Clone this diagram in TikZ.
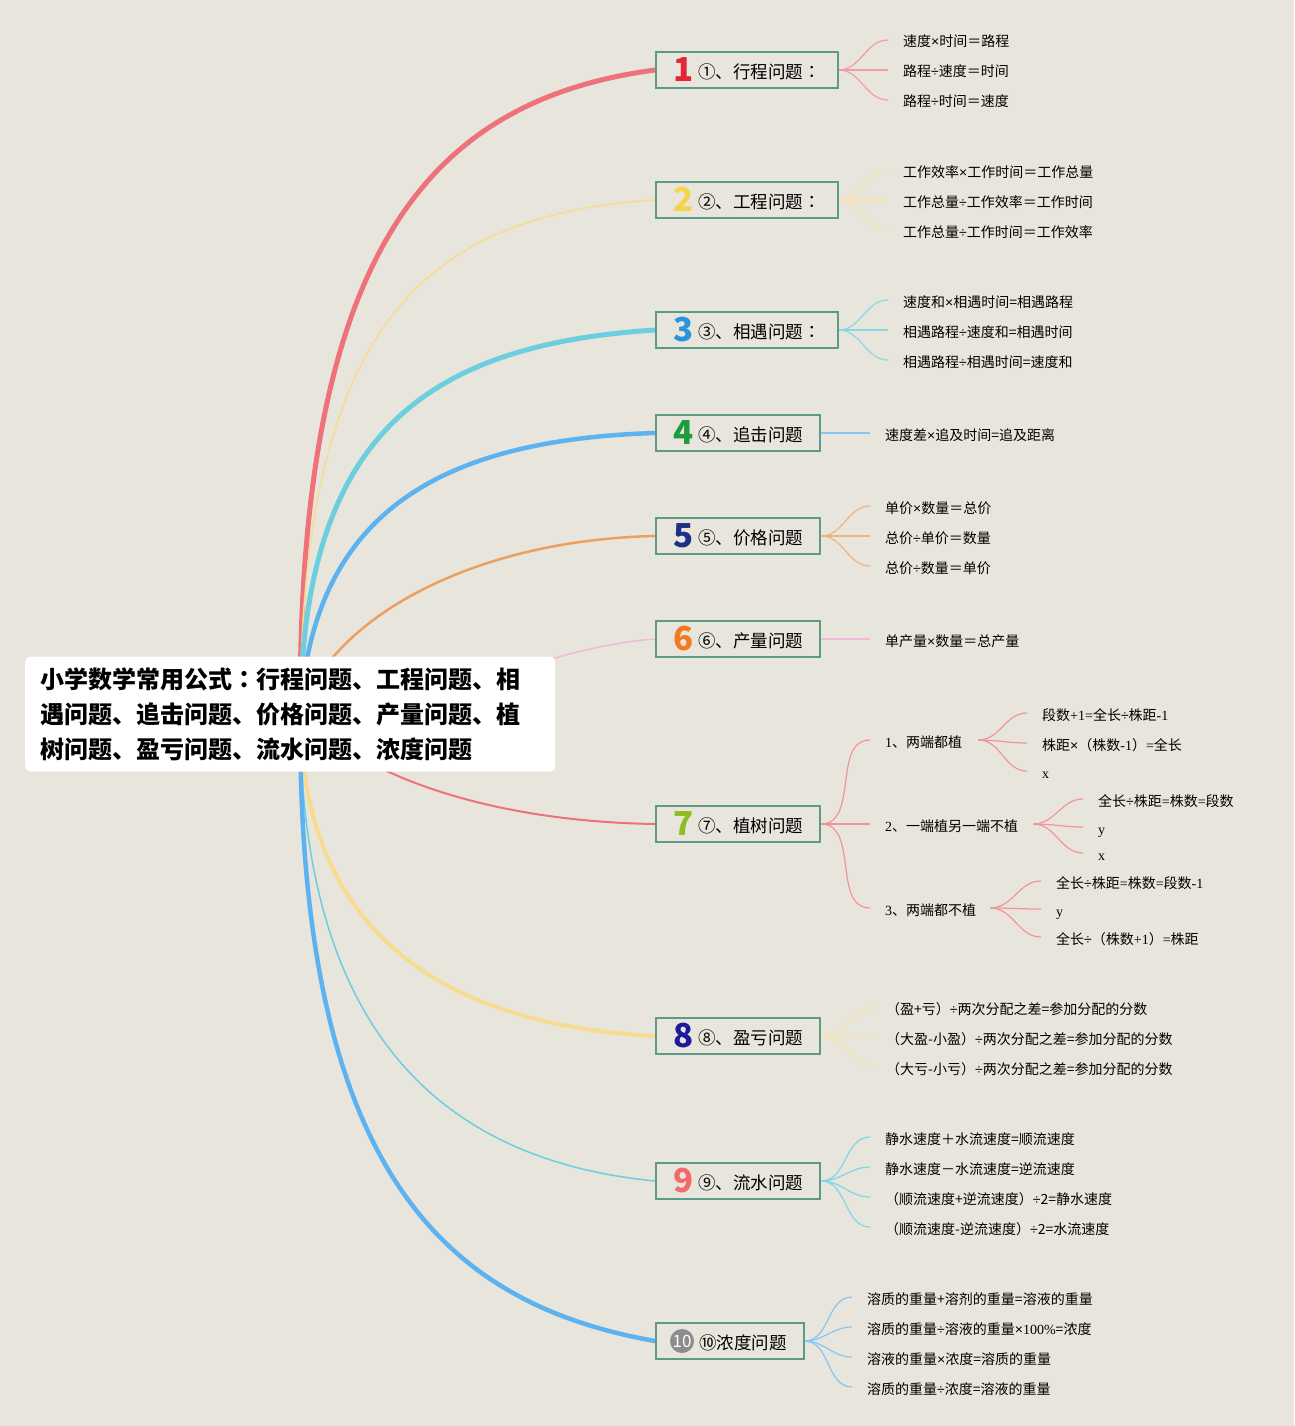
\documentclass[tikz,border=0pt]{standalone}
\usepackage{fontspec}
\setmainfont{Noto Sans CJK SC}
\newfontfamily\lat{Liberation Serif}
\newfontfamily\latsans{Liberation Sans}
\newfontfamily\tcfont{Noto Sans CJK TC}
\usetikzlibrary{positioning}

\definecolor{bgcol}{HTML}{E8E5DD}
\definecolor{boxline}{HTML}{5E9A88}
\definecolor{ered}{HTML}{EE727A}
\definecolor{eyel}{HTML}{F7DC90}
\definecolor{ecyan}{HTML}{6CCEDF}
\definecolor{eblue}{HTML}{5CB3EF}
\definecolor{eorange}{HTML}{EBA060}
\definecolor{epink}{HTML}{F3B8D8}
\definecolor{nred}{HTML}{E32636}
\definecolor{nyel}{HTML}{F4D54A}
\definecolor{nblue}{HTML}{2B95DB}
\definecolor{ngreen}{HTML}{1E9B3C}
\definecolor{nnavy}{HTML}{1F2F86}
\definecolor{norange}{HTML}{F5791F}
\definecolor{nlime}{HTML}{8DBE1E}
\definecolor{nindigo}{HTML}{1C1A9A}
\definecolor{nsalmon}{HTML}{F26B6B}
\definecolor{ngray}{HTML}{8C8C8C}

\newcommand{\bignum}[2]{\raisebox{-3pt}{\fontsize{33}{33}\selectfont\bfseries\color{#1}#2}\hspace{5pt}}
\newcommand{\tms}{{\latsans ×}}
\newcommand{\dvs}{{\latsans ÷}}
\newcommand{\colonc}{{\tcfont ：}}

\pgfdeclarelayer{back}
\pgfdeclarelayer{links}
\pgfsetlayers{back,links,main}

\begin{document}
\begin{tikzpicture}[x=1pt, y=-1pt,
    title/.style={fill=white, rounded corners=5pt, align=left, text width=500pt,
        inner xsep=15pt, minimum height=115pt, anchor=west,
        font=\fontsize{24}{35}\selectfont\bfseries},
    branch/.style={draw=boxline, line width=2pt, fill=bgcol, anchor=west,
        minimum height=36pt, inner xsep=17pt, inner ysep=0pt, text height=21pt, text depth=4pt,
        font=\fontsize{17.5}{20}\selectfont},
    leaf/.style={anchor=west, inner xsep=0pt, inner ysep=1pt, text height=14pt,
        text depth=0pt, font=\fontsize{14}{16}\selectfont},
    trunk/.style={line cap=round},
    twig/.style={line width=1.2pt, out=0, in=180}
]
    % page and background
    \useasboundingbox (0,0) rectangle (1294,1426);
    \begin{pgfonlayer}{back}
        \fill[bgcol] (0,0) rectangle (1294,1426);
    \end{pgfonlayer}

    % central topic
    \node[title] (root) at (25,714) {小学数学常用公式\colonc 行程问题、工程问题、相\\
        遇问题、追击问题、价格问题、产量问题、植\\
        树问题、盈亏问题、流水问题、浓度问题};
    \coordinate (hub) at ([xshift=10pt]root.center);

    % main branches
    \node[branch] (b1) at (655,70) {\bignum{nred}{1}①、行程问题\colonc};
    \node[branch] (b2) at (655,200) {\bignum{nyel}{2}②、工程问题\colonc};
    \node[branch] (b3) at (655,330) {\bignum{nblue}{3}③、相遇问题\colonc};
    \node[branch] (b4) at (655,433) {\bignum{ngreen}{4}④、追击问题};
    \node[branch] (b5) at (655,536) {\bignum{nnavy}{5}⑤、价格问题};
    \node[branch] (b6) at (655,639) {\bignum{norange}{6}⑥、产量问题};
    \node[branch] (b7) at (655,824) {\bignum{nlime}{7}⑦、植树问题};
    \node[branch] (b8) at (655,1036) {\bignum{nindigo}{8}⑧、盈亏问题};
    \node[branch] (b9) at (655,1181) {\bignum{nsalmon}{9}⑨、流水问题};
    \node[branch] (b10) at (655,1341) {\hspace{26pt}⑩浓度问题};
    \node[circle, fill=ngray, text=white, inner sep=0pt, minimum size=24pt,
        font=\fontsize{17}{17}\selectfont] (n10) at ([xshift=27pt]b10.west) {10};

    % leaves of 1
    \node[leaf] (l1a) at (903,40) {速度\tms 时间＝路程};
    \node[leaf] (l1b) at (903,70) {路程\dvs 速度＝时间};
    \node[leaf] (l1c) at (903,100) {路程\dvs 时间＝速度};
    % leaves of 2
    \node[leaf] (l2a) at (903,170) {工作效率\tms 工作时间＝工作总量};
    \node[leaf] (l2b) at (903,200) {工作总量\dvs 工作效率＝工作时间};
    \node[leaf] (l2c) at (903,230) {工作总量\dvs 工作时间＝工作效率};
    % leaves of 3
    \node[leaf] (l3a) at (903,300) {速度和\tms 相遇时间=相遇路程};
    \node[leaf] (l3b) at (903,330) {相遇路程\dvs 速度和=相遇时间};
    \node[leaf] (l3c) at (903,360) {相遇路程\dvs 相遇时间=速度和};
    % leaves of 4, 5, 6
    \node[leaf] (l4a) at (885,433) {速度差\tms 追及时间=追及距离};
    \node[leaf] (l5a) at (885,506) {单价\tms 数量＝总价};
    \node[leaf] (l5b) at (885,536) {总价\dvs 单价＝数量};
    \node[leaf] (l5c) at (885,566) {总价\dvs 数量＝单价};
    \node[leaf] (l6a) at (885,639) {单产量\tms 数量＝总产量};
    % sub branches of 7
    \node[leaf] (s71) at (885,740) {{\lat 1}、两端都植};
    \node[leaf] (s72) at (885,824) {{\lat 2}、一端植另一端不植};
    \node[leaf] (s73) at (885,908) {{\lat 3}、两端都不植};
    \node[leaf] (l71a) at (1042,713) {段数{\lat +1=}全长\dvs 株距{\lat -1}};
    \node[leaf] (l71b) at (1042,743) {株距\tms （株数{\lat -1}）{\lat =}全长};
    \node[leaf] (l71c) at (1042,771) {\lat x};
    \node[leaf] (l72a) at (1098,799) {全长\dvs 株距{\lat =}株数{\lat =}段数};
    \node[leaf] (l72b) at (1098,827) {\lat y};
    \node[leaf] (l72c) at (1098,853) {\lat x};
    \node[leaf] (l73a) at (1056,881) {全长\dvs 株距{\lat =}株数{\lat =}段数{\lat -1}};
    \node[leaf] (l73b) at (1056,909) {\lat y};
    \node[leaf] (l73c) at (1056,937) {全长\dvs （株数{\lat +1}）{\lat =}株距};
    % leaves of 8
    \node[leaf] (l8a) at (886,1007) {（盈+亏）\dvs 两次分配之差=参加分配的分数};
    \node[leaf] (l8b) at (886,1037) {（大盈-小盈）\dvs 两次分配之差=参加分配的分数};
    \node[leaf] (l8c) at (886,1067) {（大亏-小亏）\dvs 两次分配之差=参加分配的分数};
    % leaves of 9
    \node[leaf] (l9a) at (885,1137) {静水速度＋水流速度=顺流速度};
    \node[leaf] (l9b) at (885,1167) {静水速度－水流速度=逆流速度};
    \node[leaf] (l9c) at (885,1197) {（顺流速度+逆流速度）\dvs 2=静水速度};
    \node[leaf] (l9d) at (885,1227) {（顺流速度-逆流速度）\dvs 2=水流速度};
    % leaves of 10
    \node[leaf] (l10a) at (867,1297) {溶质的重量+溶剂的重量=溶液的重量};
    \node[leaf] (l10b) at (867,1327) {溶质的重量\dvs 溶液的重量\tms {\lat 100\%}=浓度};
    \node[leaf] (l10c) at (867,1357) {溶液的重量\tms 浓度=溶质的重量};
    \node[leaf] (l10d) at (867,1387) {溶质的重量\dvs 浓度=溶液的重量};

    \begin{pgfonlayer}{links}
        % trunks from the centre
        \draw[trunk, ered, line width=5pt] (hub) .. controls (298,250) and (430,100) .. (b1.west);
        \draw[trunk, eyel, line width=1.5pt] (hub) .. controls (301,330) and (420,215) .. (b2.west);
        \draw[trunk, ecyan, line width=5pt] (hub) .. controls (303,440) and (420,345) .. (b3.west);
        \draw[trunk, eblue, line width=4.5pt] (hub) .. controls (312,520) and (430,440) .. (b4.west);
        \draw[trunk, eorange, line width=2.5pt] (hub) .. controls (330,620) and (470,540) .. (b5.west);
        \draw[trunk, epink, line width=1.5pt] (hub) .. controls (450,700) and (560,645) .. (b6.west);
        \draw[trunk, ered, line width=2pt] (hub) .. controls (380,790) and (520,822) .. (b7.west);
        \draw[trunk, eyel, line width=4pt] (hub) .. controls (302,930) and (440,1025) .. (b8.west);
        \draw[trunk, ecyan, line width=1.5pt] (hub) .. controls (300,1030) and (440,1160) .. (b9.west);
        \draw[trunk, eblue, line width=4.5pt] (hub) .. controls (298,1165) and (440,1303) .. (b10.west);

        % twigs to the formulas
        \foreach \l in {l1a,l1b,l1c}
            \draw[twig, ered!70] (b1.east) to ([xshift=-15pt]\l.west);
        \foreach \l in {l2a,l2b,l2c}
            \draw[twig, eyel!80] (b2.east) to ([xshift=-15pt]\l.west);
        \foreach \l in {l3a,l3b,l3c}
            \draw[twig, ecyan!80] (b3.east) to ([xshift=-15pt]\l.west);
        \draw[twig, eblue!75] (b4.east) to ([xshift=-15pt]l4a.west);
        \foreach \l in {l5a,l5b,l5c}
            \draw[twig, eorange!80] (b5.east) to ([xshift=-15pt]\l.west);
        \draw[twig, epink] (b6.east) to ([xshift=-15pt]l6a.west);
        \foreach \l in {s71,s72,s73}
            \draw[twig, ered!75] (b7.east) to ([xshift=-15pt]\l.west);
        \foreach \l in {l71a,l71b,l71c}
            \draw[twig, ered!75] ([xshift=16pt]s71.east) to ([xshift=-15pt]\l.west);
        \foreach \l in {l72a,l72b,l72c}
            \draw[twig, ered!75] ([xshift=15pt]s72.east) to ([xshift=-15pt]\l.west);
        \foreach \l in {l73a,l73b,l73c}
            \draw[twig, ered!75] ([xshift=14pt]s73.east) to ([xshift=-15pt]\l.west);
        \foreach \l in {l8a,l8b,l8c}
            \draw[twig, eyel!80] (b8.east) to ([xshift=-9pt]\l.west);
        \foreach \l in {l9a,l9b,l9c,l9d}
            \draw[twig, ecyan!85] (b9.east) to ([xshift=-15pt]\l.west);
        \foreach \l in {l10a,l10b,l10c,l10d}
            \draw[twig, eblue!75] (b10.east) to ([xshift=-15pt]\l.west);
    \end{pgfonlayer}
\end{tikzpicture}
\end{document}
